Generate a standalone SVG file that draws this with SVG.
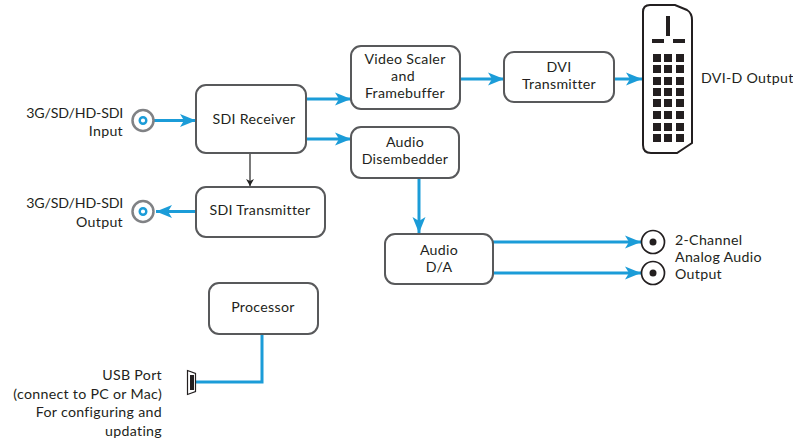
<svg xmlns="http://www.w3.org/2000/svg" width="793" height="441" viewBox="0 0 793 441">
<defs>
<marker id="a" markerUnits="userSpaceOnUse" markerWidth="17" markerHeight="14" refX="16" refY="7" orient="auto"><path d="M0 0.5L16 7L0 13.5L4 7Z" fill="#1b9cd8"/></marker>
<marker id="k" markerUnits="userSpaceOnUse" markerWidth="8" markerHeight="8" refX="7" refY="4" orient="auto"><path d="M0 0L7 4L0 8L2 4Z" fill="#222"/></marker>
</defs>
<style>
text{font-family:"Lato","Open Sans","Liberation Sans",sans-serif;font-size:14.2px;letter-spacing:.3px;fill:#231f20}
.m{text-anchor:middle}.e{text-anchor:end}
.t{letter-spacing:-.2px}
.b{fill:#fff;stroke:#58595b;stroke-width:2}
.c{fill:none;stroke:#1b9cd8;stroke-width:3;marker-end:url(#a)}
.g{fill:#fff;stroke:#808285;stroke-width:2.5}
.r{fill:#fff;stroke:#231f20;stroke-width:1.7}
.p{fill:#231f20}
</style>
<g id="connectors">
<path class="c" d="M154 120.5H196"/>
<path class="c" d="M196 211.5H156"/>
<path class="c" d="M306 99H351"/>
<path class="c" d="M306 139H351"/>
<path class="c" d="M460 79H504"/>
<path class="c" d="M614 79H642"/>
<path class="c" d="M419 178V233"/>
<path class="c" d="M493 242H641"/>
<path class="c" d="M493 273H641"/>
<path d="M250 153V186" fill="none" stroke="#222" stroke-width="1.2" marker-end="url(#k)"/>
<path d="M262 334V382H195" fill="none" stroke="#1b9cd8" stroke-width="3"/>
</g>
<g id="sdi-in"><circle class="g" cx="143" cy="120.5" r="10.5"/><circle cx="143" cy="120.5" r="3.3" fill="#fff" stroke="#1b9cd8" stroke-width="2.4"/></g>
<g id="sdi-out"><circle class="g" cx="143" cy="211.5" r="10.5"/><circle cx="143" cy="211.5" r="3.3" fill="#fff" stroke="#1b9cd8" stroke-width="2.4"/></g>
<g id="sdi-receiver"><rect class="b" x="196" y="85" width="110" height="68" rx="10"/><text class="m" x="254" y="124">SDI Receiver</text></g>
<g id="sdi-transmitter"><rect class="b" x="196" y="187" width="129" height="50" rx="10"/><text class="m" x="260" y="215">SDI Transmitter</text></g>
<g id="scaler"><rect class="b" x="351" y="46" width="109" height="63" rx="10"/><text class="m" x="405" y="64">Video Scaler</text><text class="m" x="403" y="81">and</text><text class="m" x="405" y="98">Framebuffer</text></g>
<g id="dvi-tx"><rect class="b" x="504" y="52" width="110" height="50" rx="10"/><text class="m" x="559" y="72">DVI</text><text class="m" x="559" y="89">Transmitter</text></g>
<g id="disembedder"><rect class="b" x="351" y="127" width="108" height="51" rx="10"/><text class="m" x="405" y="147">Audio</text><text class="m" x="405" y="164">Disembedder</text></g>
<g id="audio-da"><rect class="b" x="385" y="234" width="108" height="50" rx="10"/><text class="m" x="439" y="255">Audio</text><text class="m" x="439" y="272">D/A</text></g>
<g id="processor"><rect class="b" x="209" y="283" width="109" height="51" rx="10"/><text class="m" x="263" y="312">Processor</text></g>
<g id="usb"><path d="M187.500 370.500L195.500 373.500V391.500L187.500 394.500Z" fill="#fff" stroke="#231f20" stroke-width="1.2"/><rect x="190" y="375" width="4" height="15" fill="#231f20"/></g>
<g id="dvi">
<path d="M650 5H675L687 10Q692 13 692 20V143L677 153H651Q643 153 643 145V12Q643 5 650 5Z" fill="#fff" stroke="#231f20" stroke-width="2"/>
<rect class="p" x="666" y="16" width="4" height="20"/><rect class="p" x="652" y="39" width="12" height="4"/><rect class="p" x="673" y="39" width="12" height="4"/>
<g class="p">
<rect x="653" y="54" width="8" height="8"/><rect x="664" y="54" width="8" height="8"/><rect x="676" y="54" width="8" height="8"/>
<rect x="653" y="65" width="8" height="8"/><rect x="664" y="65" width="8" height="8"/><rect x="676" y="65" width="8" height="8"/>
<rect x="653" y="77" width="8" height="8"/><rect x="664" y="77" width="8" height="8"/><rect x="676" y="77" width="8" height="8"/>
<rect x="653" y="88" width="8" height="8"/><rect x="664" y="88" width="8" height="8"/><rect x="676" y="88" width="8" height="8"/>
<rect x="653" y="99" width="8" height="8"/><rect x="664" y="99" width="8" height="8"/><rect x="676" y="99" width="8" height="8"/>
<rect x="653" y="111" width="8" height="8"/><rect x="664" y="111" width="8" height="8"/><rect x="676" y="111" width="8" height="8"/>
<rect x="653" y="123" width="8" height="8"/><rect x="664" y="123" width="8" height="8"/><rect x="676" y="123" width="8" height="8"/>
<rect x="653" y="134" width="8" height="8"/><rect x="664" y="134" width="8" height="8"/><rect x="676" y="134" width="8" height="8"/>
</g>
</g>
<g id="rca-1"><circle class="r" cx="653" cy="242" r="11.500"/><circle class="p" cx="653" cy="242" r="3.500"/></g>
<g id="rca-2"><circle class="r" cx="653" cy="273" r="11.500"/><circle class="p" cx="653" cy="273" r="3.500"/></g>
<g id="labels">
<text class="e t" x="123" y="118">3G/SD/HD-SDI</text><text class="e" x="123" y="136">Input</text>
<text class="e t" x="123" y="208">3G/SD/HD-SDI</text><text class="e" x="123" y="227">Output</text>
<text x="701" y="83">DVI-D Output</text>
<text x="675" y="245">2-Channel</text><text x="675" y="262">Analog Audio</text><text x="675" y="279">Output</text>
<text class="e" x="162" y="380">USB Port</text><text class="e" x="162" y="399">(connect to PC or Mac)</text><text class="e" x="162" y="417">For configuring and</text><text class="e" x="162" y="436">updating</text>
</g>
</svg>
